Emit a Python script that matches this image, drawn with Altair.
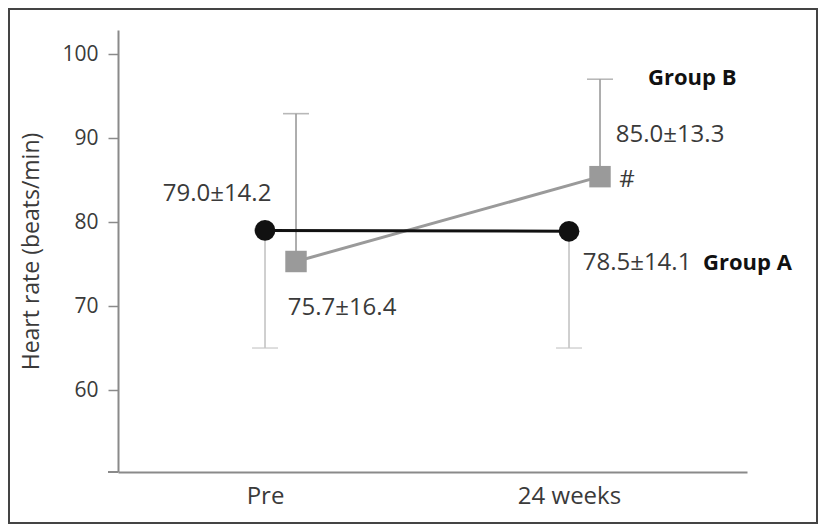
import json
import altair as alt
import pandas as pd

# ---- data ----
categories = ["Pre", "24 weeks"]
group_a_mean = [79.0, 78.9]
group_a_low = [65.0, 65.0]
group_b_mean = [75.3, 85.4]
group_b_high = [92.9, 97.0]
y_ticks = [60, 70, 80, 90, 100]
y_domain = [50.24, 102.86]
x_domain = [-0.4836, 1.5855]

label_text = ["79.0±14.2", "75.7±16.4", "85.0±13.3", "#", "Group B", "78.5±14.1", "Group A"]
label_time = ["Pre", "Pre", "24 weeks", "24 weeks", "24 weeks", "24 weeks", "24 weeks"]
label_anchor = [79.0, 75.3, 85.4, 85.4, 85.4, 78.9, 78.9]

W, H = 629, 442
FONT = "Open Sans"
AXIS_GRAY = "#8a8a8a"
TEXT_GRAY = "#3a3a3a"
CATS = json.dumps(categories)

df_a = pd.DataFrame({"time": categories, "mean": group_a_mean, "low": group_a_low})
df_b = pd.DataFrame({"time": categories, "mean": group_b_mean, "high": group_b_high})

x_enc = alt.X(
    "xi:Q",
    scale=alt.Scale(domain=x_domain, nice=False, zero=False),
    axis=alt.Axis(
        title=None, values=[0, 1], labelExpr=f"{CATS}[datum.value]", labelAngle=0,
        ticks=False, domainColor=AXIS_GRAY, domainWidth=2,
        labelFont=FONT, labelFontSize=24, labelColor=TEXT_GRAY, labelPadding=12,
        grid=False,
    ),
)


def y_enc(field):
    return alt.Y(
        f"{field}:Q",
        scale=alt.Scale(domain=y_domain, nice=False, zero=False),
        axis=alt.Axis(
            title="Heart rate (beats/min)", values=y_ticks, tickSize=10,
            tickColor=AXIS_GRAY, tickWidth=1.5, domainColor=AXIS_GRAY, domainWidth=2,
            labelFont=FONT, labelFontSize=21, labelColor=TEXT_GRAY, labelPadding=10,
            titleFont=FONT, titleFontSize=23, titleFontWeight="normal",
            titleColor=TEXT_GRAY, titlePadding=18, grid=False,
        ),
    )


def base(df):
    return alt.Chart(df).transform_calculate(xi=f"indexof({CATS}, datum.time)")


B_OFF = 31

# error bars
a_err = base(df_a).mark_rule(color="#c4c4c4", strokeWidth=1.6).encode(
    x=x_enc, y=y_enc("mean"), y2="low:Q")
a_cap = base(df_a).mark_tick(color="#c4c4c4", size=26, thickness=1.6, orient="horizontal").encode(
    x=x_enc, y=y_enc("low"))
b_err = base(df_b).mark_rule(color="#9a9a9a", strokeWidth=1.6, xOffset=B_OFF).encode(
    x=x_enc, y=y_enc("mean"), y2="high:Q")
b_cap = base(df_b).mark_tick(color="#9a9a9a", size=26, thickness=1.6, orient="horizontal",
                             xOffset=B_OFF).encode(x=x_enc, y=y_enc("high"))

# lines and markers
b_line = base(df_b).mark_line(color="#9a9a9a", strokeWidth=3, xOffset=B_OFF).encode(
    x=x_enc, y=y_enc("mean"))
b_pts = base(df_b).mark_square(color="#9a9a9a", opacity=1, size=460, xOffset=B_OFF).encode(
    x=x_enc, y=y_enc("mean"))
a_line = base(df_a).mark_line(color="#111111", strokeWidth=3).encode(
    x=x_enc, y=y_enc("mean"))
a_pts = base(df_a).mark_circle(color="#111111", opacity=1, size=430).encode(
    x=x_enc, y=y_enc("mean"))

# text labels (offsets are styling relative to their anchor point)
label_style = [
    dict(dx=-48, dy=-29, align="center", bold=False),
    dict(dx=77, dy=54, align="center", bold=False),
    dict(dx=101, dy=-35, align="center", bold=False),
    dict(dx=58, dy=10, align="center", bold=False),
    dict(dx=79, dy=-92, align="left", bold=True),
    dict(dx=68, dy=39, align="center", bold=False),
    dict(dx=134, dy=39, align="left", bold=True),
]

texts = []
for t, tm, v, st in zip(label_text, label_time, label_anchor, label_style):
    d = pd.DataFrame({"time": [tm], "value": [v], "label": [t]})
    texts.append(
        base(d).mark_text(
            dx=st["dx"], dy=st["dy"], align=st["align"], baseline="alphabetic",
            font=FONT, fontSize=22 if st["bold"] else 24,
            fontWeight="bold" if st["bold"] else "normal",
            color="#111111" if st["bold"] else TEXT_GRAY,
        ).encode(x=x_enc, y=y_enc("value"), text="label:N")
    )

# small overhang of the x axis line to the left of the y axis, and the figure frame
deco = pd.DataFrame({"k": [0]})
x_overhang = alt.Chart(deco).mark_rule(color=AXIS_GRAY, strokeWidth=2).encode(
    x=alt.value(-10), x2=alt.value(0), y=alt.value(H))
frame = alt.Chart(deco).mark_rect(fill=None, stroke="#444444", strokeWidth=2).encode(
    x=alt.value(-109), x2=alt.value(W + 70), y=alt.value(-21), y2=alt.value(H + 51))

chart = alt.layer(
    a_err, a_cap, b_err, b_cap, b_line, a_line, b_pts, a_pts, *texts, x_overhang, frame
).properties(
    width=W, height=H,
    padding={"left": 110, "top": 22, "right": 71, "bottom": 52},
    autosize=alt.AutoSizeParams(type="none"),
).configure_view(stroke=None)

chart.save("out.html", embed_options={"renderer": "svg", "actions": False})
